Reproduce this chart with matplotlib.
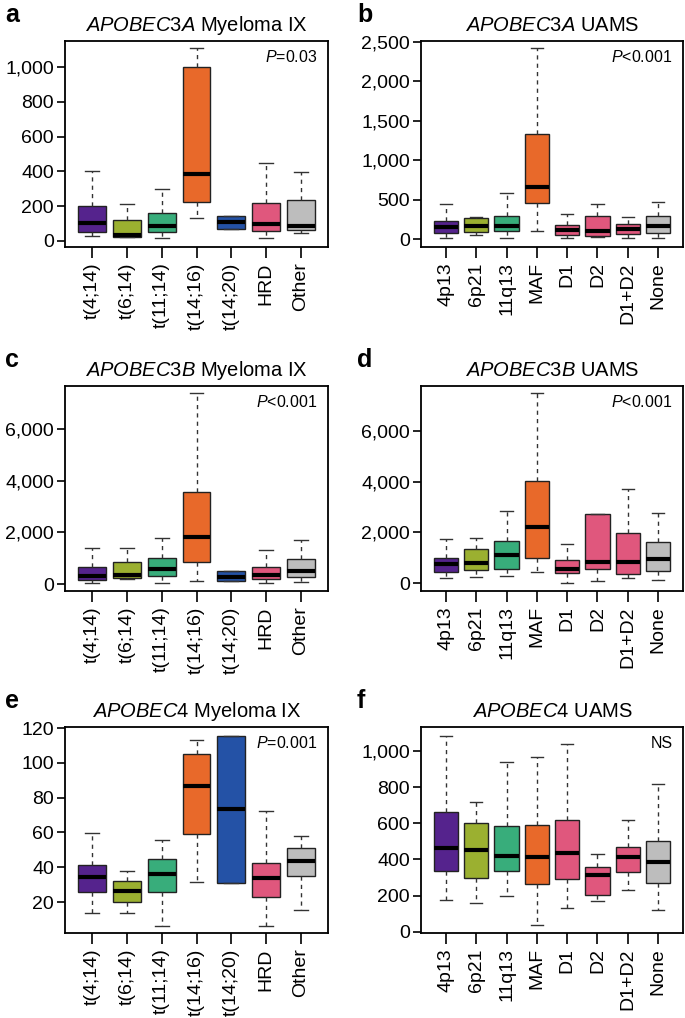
import matplotlib
matplotlib.use("Agg")
import matplotlib.pyplot as plt

plt.rcParams['font.family'] = ['Liberation Sans', 'DejaVu Sans']
plt.rcParams['mathtext.fontset'] = 'custom'
plt.rcParams['mathtext.rm'] = 'Liberation Sans'
plt.rcParams['mathtext.it'] = 'Liberation Sans:italic'

# groups
mix_groups = ["t(4;14)", "t(6;14)", "t(11;14)", "t(14;16)", "t(14;20)", "HRD", "Other"]
uams_groups = ["4p13", "6p21", "11q13", "MAF", "D1", "D2", "D1+D2", "None"]

mix_colors = ["#55238d", "#9bb030", "#38ad7b", "#e8692a", "#2452a6", "#e0577d", "#bdbdbd"]
uams_colors = ["#55238d", "#9bb030", "#38ad7b", "#e8692a", "#e0577d", "#e0577d", "#e0577d", "#bdbdbd"]

# box stats: (whislo, q1, med, q3, whishi)
a3a_mix = [(29, 54, 102, 198, 403), (20, 25, 32, 121, 213), (19, 54, 88, 163, 301),
           (130, 226, 384, 1000, 1109), (71, 71, 111, 144, 144), (15, 58, 98, 217, 447),
           (48, 63, 83, 236, 395)]
a3a_uams = [(9, 81, 158, 230, 439), (47, 85, 162, 268, 281), (9, 98, 162, 294, 579),
            (102, 456, 660, 1329, 2423), (9, 51, 115, 179, 324), (26, 38, 98, 290, 439),
            (9, 68, 128, 196, 281), (9, 72, 170, 294, 464)]
a3b_mix = [(52, 155, 323, 645, 1381), (181, 232, 348, 852, 1381), (52, 323, 581, 994, 1794),
           (129, 839, 1806, 3548, 7381), (116, 116, 284, 490, 490), (52, 181, 348, 645, 1329),
           (90, 284, 490, 955, 1703)]
a3b_uams = [(197, 432, 747, 996, 1729), (236, 524, 786, 1336, 1782), (262, 563, 1100, 1651, 2843),
            (445, 996, 2201, 4009, 7494), (0, 380, 576, 904, 1533), (66, 563, 825, 2712, 2712),
            (197, 341, 825, 1978, 3694), (131, 485, 943, 1611, 2777)]
a4_mix = [(13.7, 25.8, 34.6, 41.2, 59.8), (13.7, 20.0, 26.5, 31.9, 38.1), (6.2, 25.8, 36.2, 45.0, 55.8),
          (31.3, 59.2, 86.9, 105.0, 113.1), (31.0, 31.0, 73.3, 115.6, 115.6), (6.5, 22.9, 33.8, 42.5, 72.3),
          (15.4, 35.0, 43.8, 51.2, 58.1)]
a4_uams = [(177, 336, 461, 664, 1085), (161, 299, 450, 600, 718), (197, 336, 419, 587, 939),
           (35, 264, 415, 592, 967), (131, 292, 437, 620, 1037), (170, 203, 314, 358, 428),
           (231, 332, 413, 470, 620), (118, 268, 384, 502, 816)]

panels = [
    ("a", "APOBEC3A", "Myeloma IX", mix_groups, mix_colors, a3a_mix, "$\\it{P}$=0.03",
     (-35, 1150), [0, 200, 400, 600, 800, 1000]),
    ("b", "APOBEC3A", "UAMS", uams_groups, uams_colors, a3a_uams, "$\\it{P}$<0.001",
     (-100, 2510), [0, 500, 1000, 1500, 2000, 2500]),
    ("c", "APOBEC3B", "Myeloma IX", mix_groups, mix_colors, a3b_mix, "$\\it{P}$<0.001",
     (-270, 7660), [0, 2000, 4000, 6000]),
    ("d", "APOBEC3B", "UAMS", uams_groups, uams_colors, a3b_uams, "$\\it{P}$<0.001",
     (-310, 7770), [0, 2000, 4000, 6000]),
    ("e", "APOBEC4", "Myeloma IX", mix_groups, mix_colors, a4_mix, "$\\it{P}$=0.001",
     (2.2, 120.6), [20, 40, 60, 80, 100, 120]),
    ("f", "APOBEC4", "UAMS", uams_groups, uams_colors, a4_uams, "NS",
     (-7, 1133), [0, 200, 400, 600, 800, 1000]),
]

W, H = 685, 1018
fig = plt.figure(figsize=(W / 100, H / 100), dpi=100)

col_left = [65, 421]
col_right = [328, 683]
row_top = [41, 386, 727]
row_bot = [247, 591, 933]

for i, (letter, gene, cohort, groups, colors, stats, ptxt, ylim, yticks) in enumerate(panels):
    r, c = i // 2, i % 2
    x0, x1 = col_left[c], col_right[c]
    y0, y1 = row_top[r], row_bot[r]
    ax = fig.add_axes([x0 / W, 1 - y1 / H, (x1 - x0) / W, (y1 - y0) / H])

    n = len(groups)
    bstats = []
    for g, s in zip(groups, stats):
        bstats.append(dict(label=g, whislo=s[0], q1=s[1], med=s[2], q3=s[3], whishi=s[4], fliers=[]))
    pos = list(range(1, n + 1))
    bp = ax.bxp(bstats, positions=pos, widths=0.8, patch_artist=True, showfliers=False,
                capwidths=0.4,
                boxprops=dict(edgecolor="#222222", linewidth=1.0),
                medianprops=dict(color="black", linewidth=3, solid_capstyle="butt"),
                whiskerprops=dict(color="#333333", linewidth=1.0, linestyle=(0, (3, 3))),
                capprops=dict(color="#333333", linewidth=1.0))
    for patch, col in zip(bp["boxes"], colors):
        patch.set_facecolor(col)

    ax.set_xlim(0.5 - 0.04 * n, n + 0.5 + 0.04 * n)
    ax.set_ylim(*ylim)
    ax.set_yticks(yticks)
    ax.set_yticklabels([f"{v:,}" for v in yticks], fontsize=14)
    ax.set_xticks(pos)
    ax.set_xticklabels(groups, rotation=90, fontsize=14)
    ax.tick_params(axis="y", length=6, width=1.2, pad=2)
    ax.tick_params(axis="x", length=8, width=1.2, pad=3)
    for sp in ax.spines.values():
        sp.set_linewidth(1.3)

    ax.set_title(f"$\\it{{{gene}}}$ {cohort}", fontsize=14.5, pad=7)
    ax.text(0.96, 0.92, ptxt, transform=ax.transAxes, ha="right", va="center", fontsize=11.5)
    fig.text((x0 - 60) / W if c == 0 else (x0 - 64) / W, 1 - (y0 - 38) / H, letter,
             fontsize=18, fontweight="bold", ha="left", va="top")

fig.savefig("out.png", dpi=100)
